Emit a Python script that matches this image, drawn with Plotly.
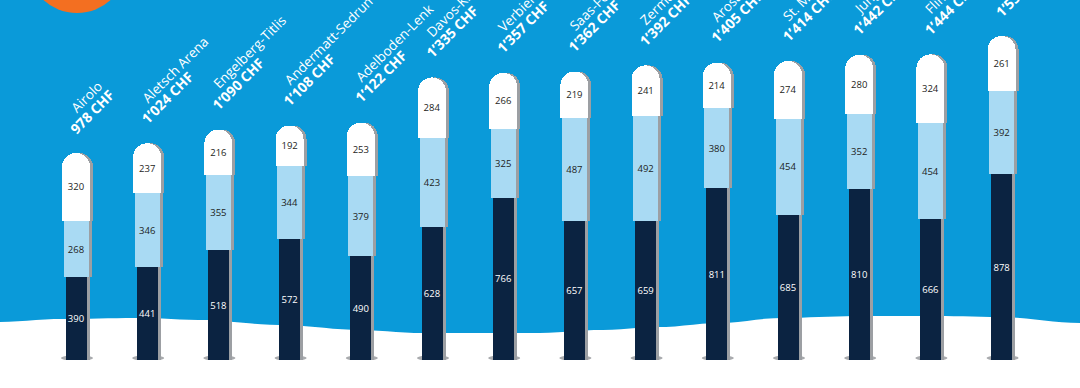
import numpy as np
import plotly.graph_objects as go

# ---------------- data ----------------
resorts = ["Airolo", "Aletsch Arena", "Engelberg-Titlis", "Andermatt-Sedrun", "Adelboden-Lenk",
           "Davos-Klosters", "Verbier", "Saas-Fee", "Zermatt", "Arosa Lenzerheide",
           "St. Moritz", "Jungfrau", "Flims Laax", ""]
seg_bottom = [390, 441, 518, 572, 490, 628, 766, 657, 659, 811, 685, 810, 666, 878]
seg_middle = [268, 346, 355, 344, 379, 423, 325, 487, 492, 380, 454, 352, 454, 392]
seg_top = [320, 237, 216, 192, 253, 284, 266, 219, 241, 214, 274, 280, 324, 261]
totals_chf = [978, 1024, 1090, 1108, 1122, 1335, 1357, 1362, 1392, 1405, 1414, 1442, 1444, 1531]

# ---------------- layout constants ----------------
W, H = 1080, 388
PLOT_H = 360
PX_PER_CAT = 71.2
FIRST_PX = 76
r0 = 1 - FIRST_PX / PX_PER_CAT
r1 = r0 + W / PX_PER_CAT
shadow_shift = 3 / PX_PER_CAT
YMAX = 1701

BG = "#0a9ad9"
DARK = "#0b2341"
LIGHT = "#a9daf3"
WHITE = "#ffffff"
SHADOW = "#9c9fa3"
FONT = "Open Sans"

w_bottom = 21 / PX_PER_CAT
w_middle = 25 / PX_PER_CAT
w_top = 28 / PX_PER_CAT

xs = [i + 1 for i in range(len(seg_bottom))]

layers = [
    ("unten", seg_bottom, w_bottom, DARK, "#ffffff"),
    ("mitte", seg_middle, w_middle, LIGHT, "#1d1d1b"),
    ("oben", seg_top, w_top, WHITE, "#1d1d1b"),
]

fig = go.Figure()

# shadow bars (base x axis, shifted to the right)
for name, vals, w, col, tcol in layers:
    fig.add_trace(go.Bar(x=xs, y=vals, width=w,
                         marker=dict(color=SHADOW, line=dict(width=0)),
                         xaxis="x", yaxis="y", hoverinfo="skip", showlegend=False))

# main bars
for name, vals, w, col, tcol in layers:
    fig.add_trace(go.Bar(
        x=xs, y=vals, width=w, name=name,
        marker=dict(color=col, line=dict(width=0)),
        text=[str(v) for v in vals], textposition="inside", insidetextanchor="middle",
        textangle=0, constraintext="none",
        textfont=dict(family=FONT, size=9.5, color=tcol),
        xaxis="x2", yaxis="y", showlegend=False))

# labels above bars
def fmt(v):
    return f"{v:,}".replace(",", "’")

stack_tops = [a + b + c for a, b, c in zip(seg_bottom, seg_middle, seg_top)]
annotations = []
for i, top in enumerate(stack_tops):
    annotations.append(dict(x=xs[i], y=top, xref="x2", yref="y", text=f"<b>{fmt(totals_chf[i])} CHF</b>",
                            textangle=-45, xanchor="left", yanchor="bottom", showarrow=False,
                            xshift=-13, yshift=13, font=dict(family=FONT, size=14, color="white")))
    if resorts[i]:
        annotations.append(dict(x=xs[i], y=top, xref="x2", yref="y", text=resorts[i],
                                textangle=-45, xanchor="left", yanchor="bottom", showarrow=False,
                                xshift=-12, yshift=34, font=dict(family=FONT, size=13.5, color="white")))

# decorative shapes: snow hill, orange disc, base ellipses
def py(p):
    return (PLOT_H - p) / PLOT_H

snow_pts = [(0, 322), (60, 319), (140, 318), (200, 320), (280, 325), (360, 330), (420, 333),
            (540, 333), (600, 330), (660, 327), (720, 323), (780, 318), (860, 316), (940, 316),
            (1000, 317), (1080, 323)]
sx = np.array([p[0] for p in snow_pts], float)
sy = np.array([p[1] for p in snow_pts], float)
fine_x = np.linspace(0, W, 121)
fine_y = []
for fx in fine_x:
    k = min(np.searchsorted(sx, fx, side="right") - 1, len(sx) - 2)
    t = (fx - sx[k]) / (sx[k + 1] - sx[k])
    s = t * t * (3 - 2 * t)
    fine_y.append(sy[k] + (sy[k + 1] - sy[k]) * s)
path = f"M 0 {py(H)} " + " ".join(f"L {fx / W:.5f} {py(fy):.5f}" for fx, fy in zip(fine_x, fine_y))
path += f" L 1 {py(H)} Z"

shapes = [
    dict(type="path", path=path, xref="paper", yref="paper", fillcolor="white",
         line=dict(width=0), layer="below"),
    dict(type="circle", xref="paper", yref="paper", x0=27 / W, x1=127 / W, y0=py(13), y1=py(-87),
         fillcolor="#f36f21", line=dict(width=0), layer="below"),
]
for xv in xs:
    shapes.append(dict(type="circle", xref="x2", yref="y", x0=xv - 15 / PX_PER_CAT, x1=xv + 17 / PX_PER_CAT,
                       ysizemode="pixel", yanchor=0, y0=-1, y1=5,
                       fillcolor="#a9abae", line=dict(width=0), layer="below"))

fig.update_layout(
    width=W, height=H,
    margin=dict(l=0, r=0, t=0, b=H - PLOT_H, pad=0),
    paper_bgcolor=BG, plot_bgcolor="rgba(0,0,0,0)",
    barmode="stack", barcornerradius=14,
    showlegend=False,
    xaxis=dict(range=[r0 - shadow_shift, r1 - shadow_shift], visible=False, fixedrange=True),
    xaxis2=dict(range=[r0, r1], visible=False, overlaying="x", fixedrange=True),
    yaxis=dict(range=[0, YMAX], visible=False, fixedrange=True),
    annotations=annotations,
    shapes=shapes,
)

fig.write_html("out.html", config={"displayModeBar": False})
